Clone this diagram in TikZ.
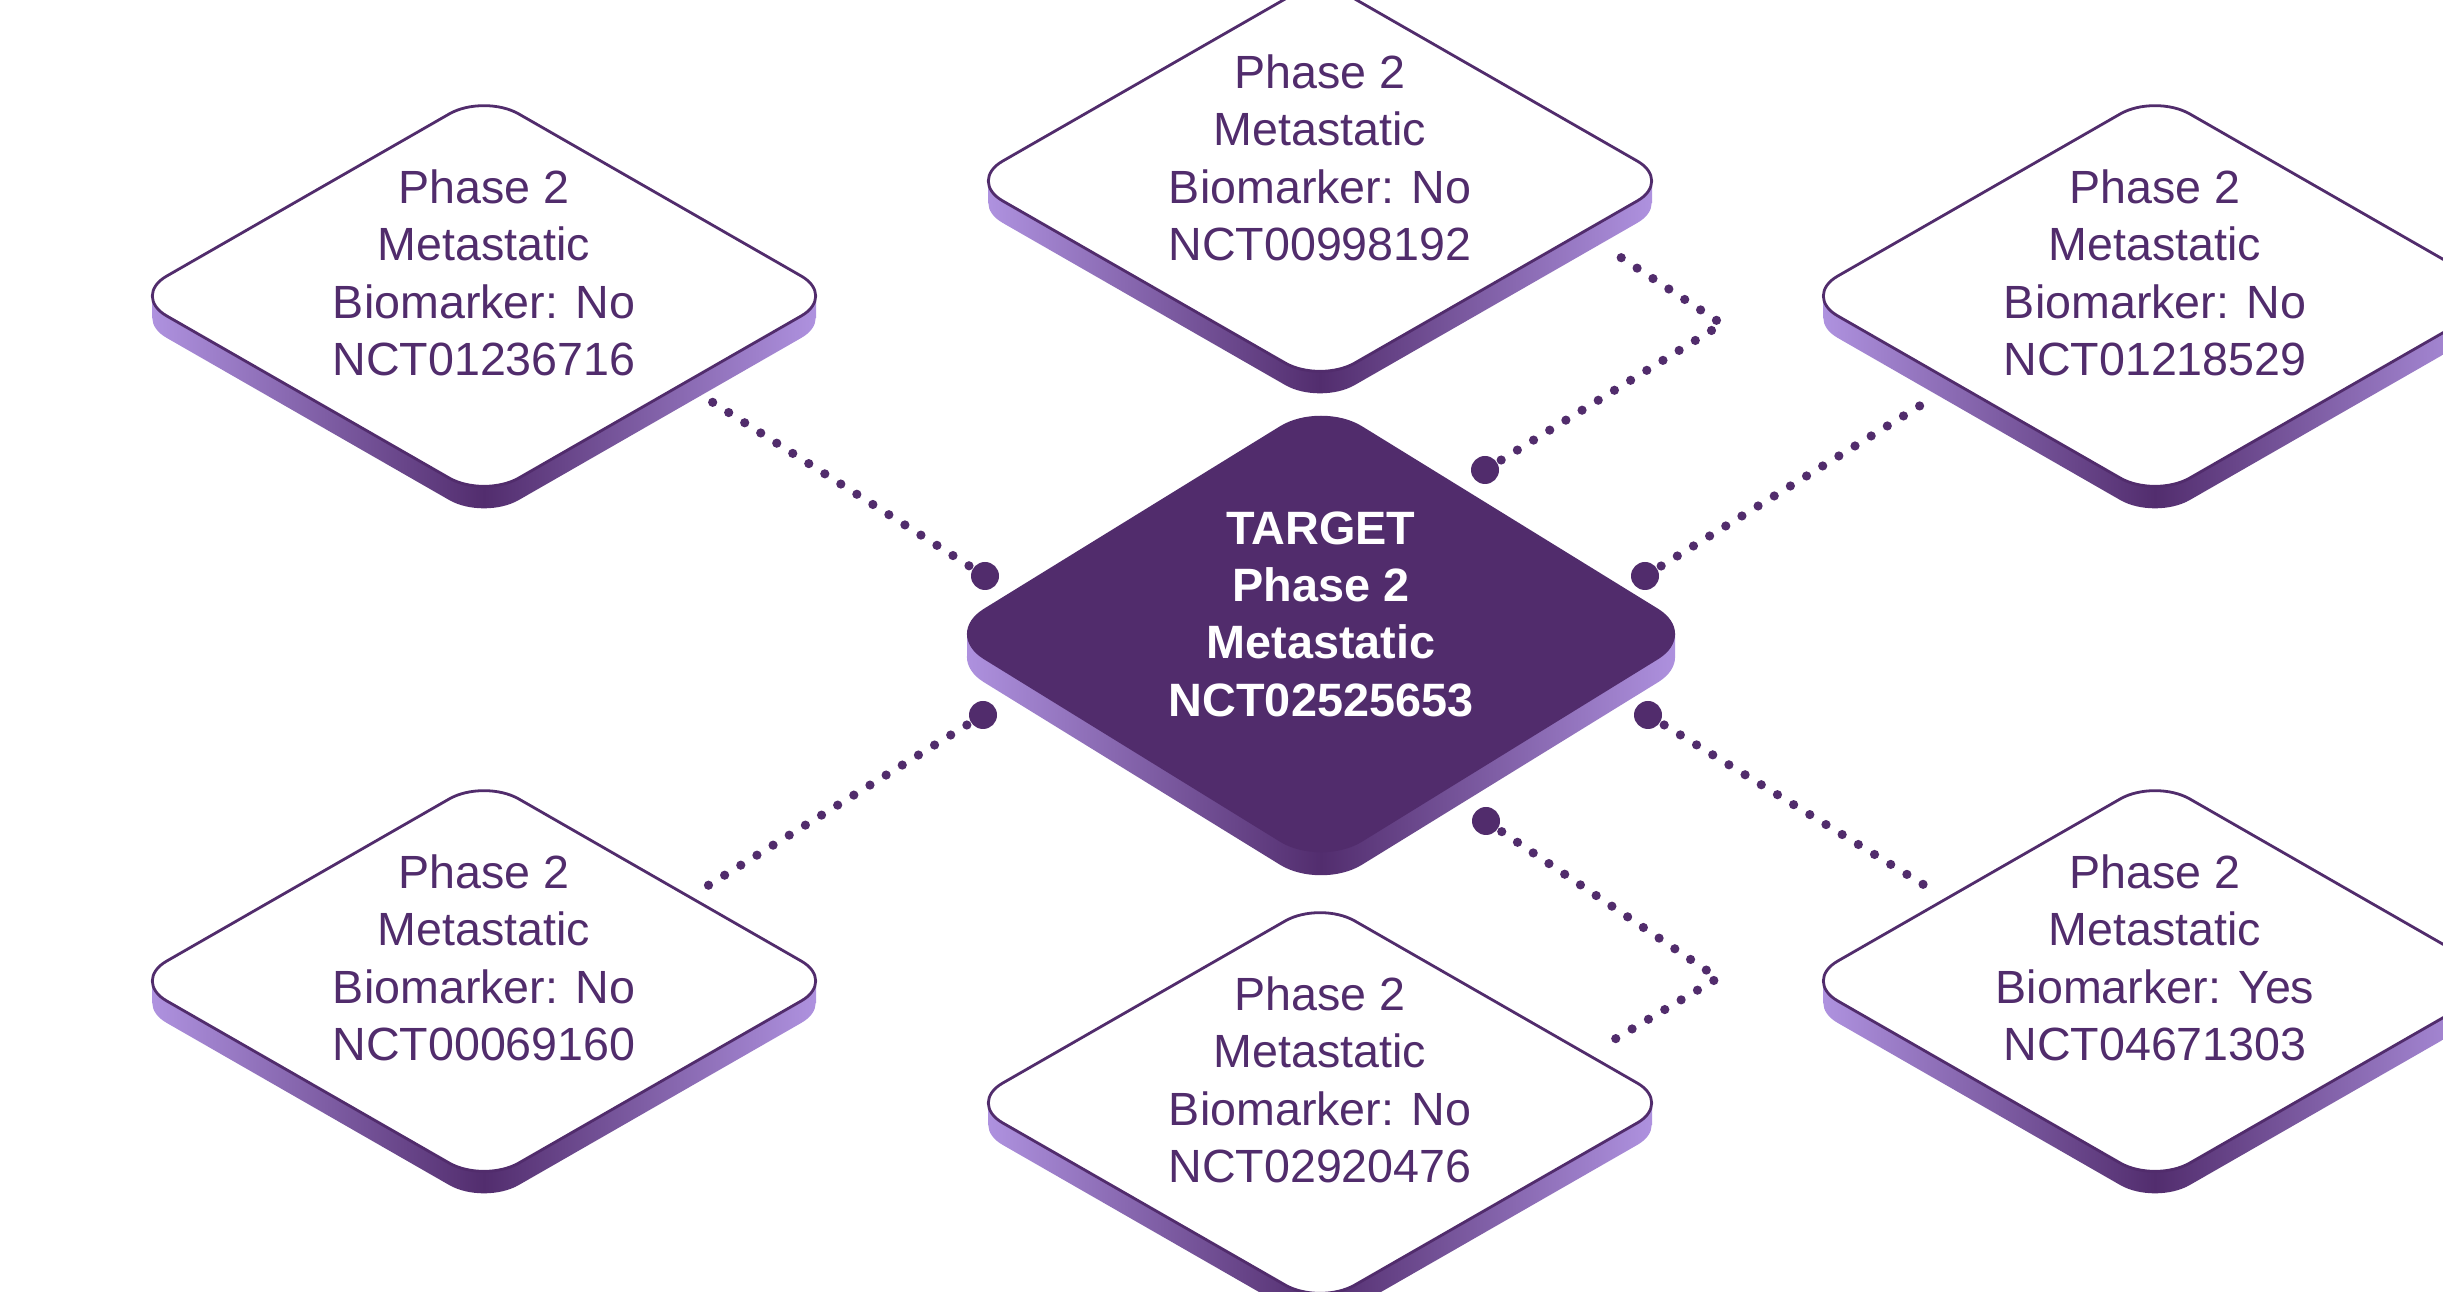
\documentclass[tikz,border=0pt]{standalone}
\usepackage{fontspec}
\setmainfont{Liberation Sans}
\usetikzlibrary{shapes.geometric}

\definecolor{plum}{RGB}{81,44,108}
\definecolor{slablite}{RGB}{180,152,230}
\definecolor{slabdark}{RGB}{82,45,110}
% the path's bounding box maps onto the 25bp--75bp band of the shading
\pgfdeclarehorizontalshading{slabshade}{100bp}{%
  color(0bp)=(slablite); color(25bp)=(slablite); color(50bp)=(slabdark);
  color(75bp)=(slablite); color(100bp)=(slablite)}

% Side of an isometric tile: x, y, half width, half height, depth, corner offset
\newcommand\tileside[7]{%
  \shade[shading=slabshade, rounded corners=#7]
    (#1-#3,#2+#5) -- (#1,#2+#4+#5) -- (#1+#3,#2+#5) -- (#1,#2-#4+#5) -- cycle
    [sharp corners] (#1-#3+#6,#2) rectangle (#1+#3-#6,#2+#5);
}

\tikzset{
  tile/.style={diamond, draw=plum, line width=0.7pt, fill=white,
    rounded corners=10pt, minimum width=176pt, minimum height=101pt,
    inner sep=0pt, outer sep=0pt},
  hub/.style={diamond, fill=plum, rounded corners=12pt,
    minimum width=189pt, minimum height=116.5pt, inner sep=0pt, outer sep=0pt},
  tiletext/.style={text=plum, align=center, inner sep=0pt,
    font=\fontsize{11.65pt}{14.33pt}\selectfont},
  hubtext/.style={text=white, align=center, inner sep=0pt,
    font=\bfseries\fontsize{11.7pt}{14.33pt}\selectfont},
  link/.style={draw=plum, line width=2.3pt, line cap=round,
    dash pattern=on 0pt off 4.75pt},
  bigdot/.style={circle, fill=plum, minimum size=7pt, inner sep=0pt},
}

\begin{document}
\begin{tikzpicture}[x=0.25pt, y=-0.25pt]
\useasboundingbox (0,0) rectangle (2443,1292);
\clip (0,0) rectangle (2443,1292);
\fill[white] (0,0) rectangle (2443,1292);

% tile sides
\tileside{484}{296}{352}{202}{22}{20}{10pt}
\tileside{1320}{181}{352}{202}{22}{20}{10pt}
\tileside{2155}{296}{352}{202}{22}{20}{10pt}
\tileside{484}{981}{352}{202}{22}{20}{10pt}
\tileside{1320}{1103}{352}{202}{22}{20}{10pt}
\tileside{2155}{981}{352}{202}{22}{20}{10pt}
\tileside{1321}{634}{378}{233}{23}{24}{12pt}

% tile tops
\node[tile] (tl) at (484,296) {};
\node[tile] (tc) at (1320,181) {};
\node[tile] (tr) at (2155,296) {};
\node[tile] (bl) at (484,981) {};
\node[tile] (bc) at (1320,1103) {};
\node[tile] (br) at (2155,981) {};
\node[hub] (hub) at (1321,634) {};

% labels
\node[tiletext] (tl-text) at ([yshift=5.75pt]tl.center)
  {Phase 2\\Metastatic\\Biomarker: No\\NCT01236716};
\node[tiletext] (tc-text) at ([yshift=5.75pt]tc.center)
  {Phase 2\\Metastatic\\Biomarker: No\\NCT00998192};
\node[tiletext] (tr-text) at ([yshift=5.75pt]tr.center)
  {Phase 2\\Metastatic\\Biomarker: No\\NCT01218529};
\node[tiletext] (bl-text) at ([yshift=5.75pt]bl.center)
  {Phase 2\\Metastatic\\Biomarker: No\\NCT00069160};
\node[tiletext] (bc-text) at ([yshift=5.75pt]bc.center)
  {Phase 2\\Metastatic\\Biomarker: No\\NCT02920476};
\node[tiletext] (br-text) at ([yshift=5.75pt]br.center)
  {Phase 2\\Metastatic\\Biomarker: Yes\\NCT04671303};
\node[hubtext] (hub-text) at ([yshift=5pt]hub.center)
  {TARGET\\Phase 2\\Metastatic\\NCT02525653};

% connector ends
\node[bigdot] (tl-dot) at (985,576) {};
\node[bigdot] (bl-dot) at (983,715) {};
\node[bigdot] (tc-dot) at (1485,470) {};
\node[bigdot] (bc-dot) at (1486,821) {};
\node[bigdot] (tr-dot) at (1645,576) {};
\node[bigdot] (br-dot) at (1648,715) {};
\coordinate (tl-end) at (709,400);
\coordinate (bl-end) at (704,888);
\coordinate (tc-bend) at (1722,324);
\coordinate (tc-end) at (1608,249);
\coordinate (bc-bend) at (1718,978);
\coordinate (bc-end) at (1605,1045);
\coordinate (tr-end) at (1926,402);
\coordinate (br-end) at (1929,888);

% dotted connectors
\draw[link] (tl-dot.center) -- (tl-end);
\draw[link] (bl-dot.center) -- (bl-end);
\draw[link] (tc-dot.center) -- (tc-bend) -- (tc-end);
\draw[link] (bc-dot.center) -- (bc-bend) -- (bc-end);
\draw[link] (tr-dot.center) -- (tr-end);
\draw[link] (br-dot.center) -- (br-end);
\end{tikzpicture}
\end{document}
